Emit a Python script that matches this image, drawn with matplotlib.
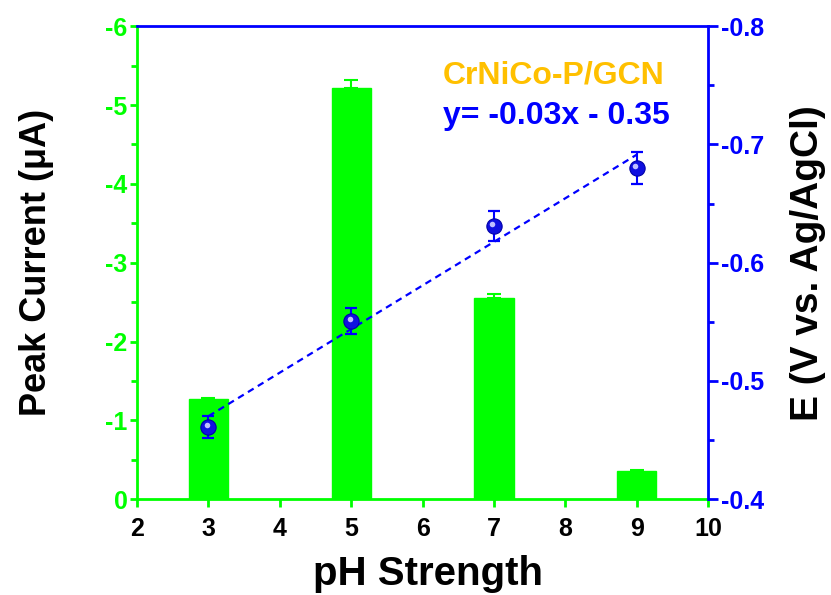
import matplotlib
matplotlib.use("Agg")
import matplotlib.pyplot as plt
import matplotlib.transforms as mtransforms
import numpy as np

plt.rcParams['font.family'] = ['Liberation Sans', 'DejaVu Sans']
plt.rcParams['font.weight'] = 'bold'
plt.rcParams['axes.unicode_minus'] = False

# pH values and measurements
ph = [3, 5, 7, 9]
peak_current = [-1.27, -5.22, -2.55, -0.355]      # µA
current_err = [0.02, 0.10, 0.05, 0.01]
potential = [-0.461, -0.551, -0.631, -0.680]     # V vs. Ag/AgCl
potential_err = [0.0095, 0.011, 0.013, 0.0137]

x_ticks = [2, 3, 4, 5, 6, 7, 8, 9, 10]
left_ticks = [0, -1, -2, -3, -4, -5, -6]
right_ticks = [-0.4, -0.5, -0.6, -0.7, -0.8]

GREEN = '#00FF00'
BLUE = '#0000FF'

fig = plt.figure(figsize=(8.31, 5.95), dpi=100)
ax = fig.add_axes([0.165, 0.161, 0.687, 0.795])
ax2 = ax.twinx()

# Bars: peak current
ax.bar(ph, peak_current, width=0.55, color=GREEN, edgecolor=GREEN, zorder=2)
ax.errorbar(ph, peak_current, yerr=[current_err, [0] * len(current_err)],
            fmt='none', ecolor=GREEN, elinewidth=1.5, capsize=5, capthick=1.5, zorder=3)

ax.set_xlim(2, 10)
ax.set_ylim(0, -6)
ax.set_xticks(x_ticks)
ax.set_xticklabels([str(v) for v in x_ticks])
ax.set_yticks(left_ticks)
ax.set_yticklabels([str(v) for v in left_ticks])
ax.set_yticks(np.arange(-0.5, -6, -1.0), minor=True)

ax.tick_params(axis='x', direction='out', length=6, width=2, color=GREEN,
               labelsize=18, labelcolor='black', pad=7)
ax.tick_params(axis='y', which='major', direction='out', length=5, width=2,
               color=GREEN, labelsize=18, labelcolor=GREEN, pad=2)
ax.tick_params(axis='y', which='minor', direction='out', length=4, width=2, color=GREEN)

for side in ['left', 'bottom']:
    ax.spines[side].set_color(GREEN)
    ax.spines[side].set_linewidth(2)
for side in ['right', 'top']:
    ax.spines[side].set_visible(False)

ax.set_xlabel('pH Strength', fontsize=29, fontweight='bold')
ax.xaxis.set_label_coords(0.51, -0.118)
ax.set_ylabel('Peak Current (μA)', fontsize=26, fontweight='bold')
ax.yaxis.set_label_coords(-0.145, 0.5)

# Points and linear fit: peak potential
ax2.set_ylim(-0.4, -0.8)
slope, intercept = np.polyfit(ph, potential, 1)
fit_x = np.array([ph[0], ph[-1]])
ax2.plot(fit_x, slope * fit_x + intercept, linestyle=(0, (3, 2.2)), color=BLUE,
         linewidth=1.6, zorder=3)
ax2.errorbar(ph, potential, yerr=potential_err, fmt='none', ecolor=BLUE,
             elinewidth=1.5, capsize=4.5, capthick=1.6, zorder=4)
ax2.plot(ph, potential, 'o', markersize=11, color='#1010E0',
         markeredgecolor='#0000A8', markeredgewidth=0.8, zorder=5)
hl = mtransforms.offset_copy(ax2.transData, fig=fig, x=-1.5, y=1.8, units='dots')
ax2.plot(ph, potential, 'o', markersize=4, color='#C0C0FF',
         markeredgewidth=0, transform=hl, zorder=6)

ax2.set_yticks(right_ticks)
ax2.set_yticklabels(['%.1f' % v for v in right_ticks])
ax2.set_yticks(np.arange(-0.45, -0.8, -0.1), minor=True)
ax2.tick_params(axis='y', which='major', direction='out', length=7, width=2,
                color=BLUE, labelsize=18, labelcolor=BLUE, pad=2)
ax2.tick_params(axis='y', which='minor', direction='out', length=4, width=2, color=BLUE)
for side in ['left', 'bottom']:
    ax2.spines[side].set_visible(False)
for side in ['right', 'top']:
    ax2.spines[side].set_color(BLUE)
    ax2.spines[side].set_linewidth(2)

ax2.set_ylabel('E (V vs. Ag/AgCl)', fontsize=28, fontweight='bold')
ax2.yaxis.set_label_coords(1.1436, 0.5)

ax2.text(0.536, 0.895, 'CrNiCo-P/GCN', transform=ax.transAxes, fontsize=23,
         fontweight='bold', color='#FFC000', ha='left', va='center')
ax2.text(0.536, 0.81, 'y= -0.03x - 0.35', transform=ax.transAxes, fontsize=23,
         fontweight='bold', color=BLUE, ha='left', va='center')

fig.savefig('out.png', dpi=100)
